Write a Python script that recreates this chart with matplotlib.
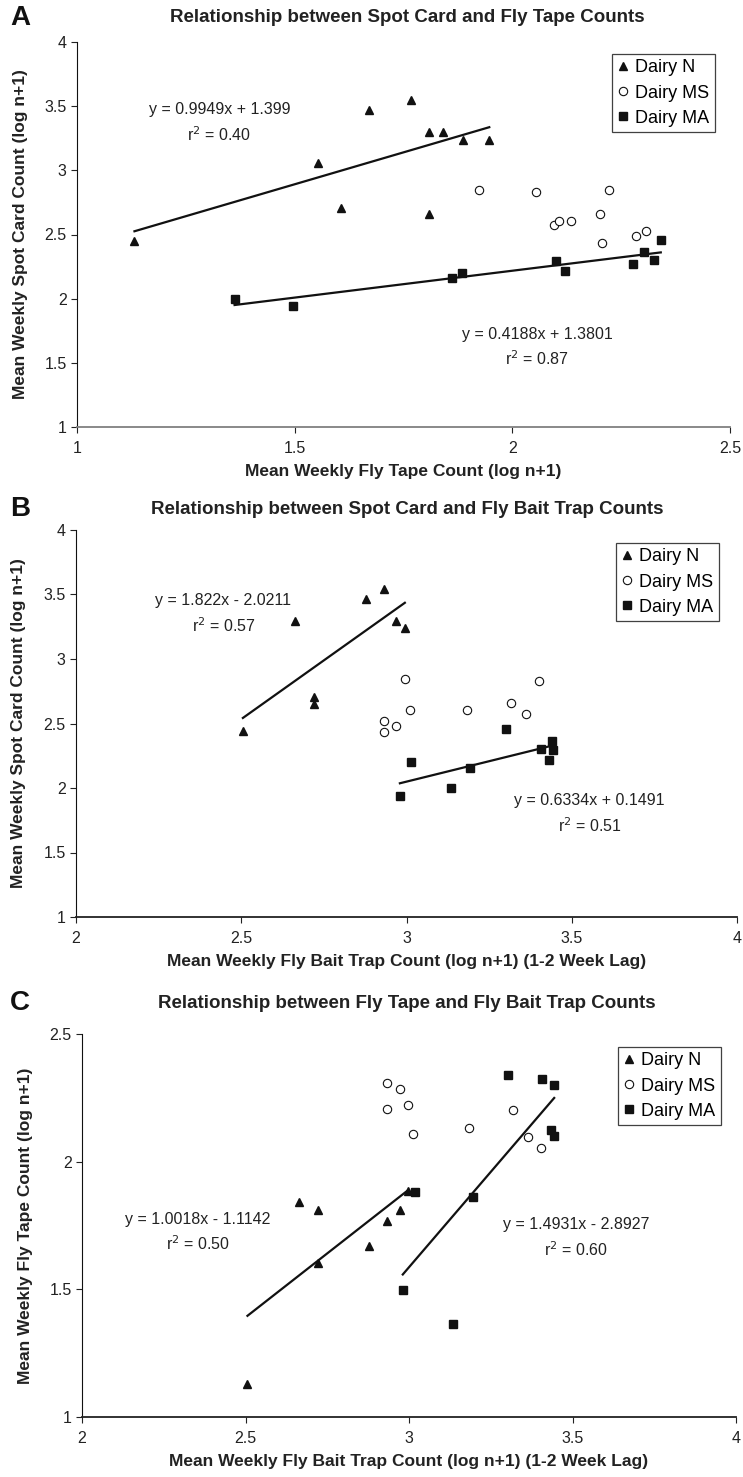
import matplotlib
matplotlib.use("Agg")
import matplotlib.pyplot as plt
import numpy as np

plt.rcParams['font.family'] = ['Liberation Sans', 'DejaVu Sans']

W, H = 743, 1477

# ---- Panel A: spot card vs fly tape ----
a_n_x = [1.132, 1.553, 1.606, 1.671, 1.768, 1.809, 1.841, 1.887, 1.947, 1.808]
a_n_y = [2.447, 3.060, 2.706, 3.467, 3.548, 3.296, 3.296, 3.239, 3.236, 2.660]
a_ms_x = [1.923, 2.054, 2.222, 2.202, 2.096, 2.108, 2.134, 2.207, 2.284, 2.308]
a_ms_y = [2.849, 2.831, 2.847, 2.660, 2.574, 2.608, 2.608, 2.436, 2.486, 2.527]
a_ma_x = [1.362, 1.497, 1.862, 1.884, 2.101, 2.122, 2.277, 2.303, 2.326, 2.341]
a_ma_y = [2.000, 1.943, 2.158, 2.200, 2.294, 2.218, 2.273, 2.366, 2.304, 2.460]

# ---- Panel B: spot card vs bait trap ----
b_n_x = [2.505, 2.662, 2.721, 2.721, 2.877, 2.931, 2.969, 2.995]
b_n_y = [2.440, 3.295, 2.704, 2.655, 3.468, 3.543, 3.295, 3.238]
b_ms_x = [2.995, 3.011, 2.931, 2.931, 2.969, 3.183, 3.315, 3.361, 3.402]
b_ms_y = [2.843, 2.606, 2.523, 2.433, 2.484, 2.606, 2.657, 2.572, 2.828]
b_ma_x = [2.980, 3.014, 3.134, 3.193, 3.301, 3.406, 3.440, 3.443, 3.432]
b_ma_y = [1.940, 2.200, 1.999, 2.154, 2.459, 2.304, 2.363, 2.291, 2.216]

# ---- Panel C: fly tape vs bait trap ----
c_n_x = [2.506, 2.664, 2.723, 2.723, 2.879, 2.934, 2.971, 2.996]
c_n_y = [1.130, 1.841, 1.809, 1.604, 1.669, 1.768, 1.809, 1.885]
c_ms_x = [2.934, 2.971, 2.934, 2.996, 3.013, 3.184, 3.317, 3.363, 3.403]
c_ms_y = [2.308, 2.283, 2.208, 2.221, 2.108, 2.133, 2.202, 2.097, 2.054]
c_ma_x = [3.017, 2.981, 3.136, 3.196, 3.303, 3.408, 3.442, 3.433, 3.444]
c_ma_y = [1.883, 1.498, 1.363, 1.861, 2.339, 2.325, 2.301, 2.123, 2.101]

series_labels = ['Dairy N', 'Dairy MS', 'Dairy MA']

# trendlines: (slope, intercept, series used for x range, label, label pos)
fits_a = [(0.9949, 1.399, a_n_x, 'y = 0.9949x + 1.399\nr$^2$ = 0.40', (1.327, 3.37)),
          (0.4188, 1.3801, a_ma_x, 'y = 0.4188x + 1.3801\nr$^2$ = 0.87', (2.057, 1.62))]
fits_b = [(1.822, -2.0211, b_n_x, 'y = 1.822x - 2.0211\nr$^2$ = 0.57', (2.446, 3.35)),
          (0.6334, 0.1491, b_ma_x, 'y = 0.6334x + 0.1491\nr$^2$ = 0.51', (3.554, 1.80))]
fits_c = [(1.0018, -1.1142, c_n_x, 'y = 1.0018x - 1.1142\nr$^2$ = 0.50', (2.355, 1.723)),
          (1.4931, -2.8927, c_ma_x, 'y = 1.4931x - 2.8927\nr$^2$ = 0.60', (3.51, 1.70))]


def box(l, r, t, b):
    return [l / W, 1 - b / H, (r - l) / W, (b - t) / H]


fig = plt.figure(figsize=(W / 100, H / 100), dpi=100)

panels = [
    dict(rect=box(77, 730, 42, 427), letter='A', ty=18,
         title='Relationship between Spot Card and Fly Tape Counts',
         xlab='Mean Weekly Fly Tape Count (log n+1)',
         ylab='Mean Weekly Spot Card Count (log n+1)',
         xlim=(1, 2.5), ylim=(1, 4), xt=[1, 1.5, 2, 2.5], yt=[1, 1.5, 2, 2.5, 3, 3.5, 4],
         data=[(a_n_x, a_n_y), (a_ms_x, a_ms_y), (a_ma_x, a_ma_y)], fits=fits_a,
         leg=(612, 715, 54, 132), bottom_color='#808080'),
    dict(rect=box(76, 737, 530, 917), letter='B', ty=509,
         title='Relationship between Spot Card and Fly Bait Trap Counts',
         xlab='Mean Weekly Fly Bait Trap Count (log n+1) (1-2 Week Lag)',
         ylab='Mean Weekly Spot Card Count (log n+1)',
         xlim=(2, 4), ylim=(1, 4), xt=[2, 2.5, 3, 3.5, 4], yt=[1, 1.5, 2, 2.5, 3, 3.5, 4],
         data=[(b_n_x, b_n_y), (b_ms_x, b_ms_y), (b_ma_x, b_ma_y)], fits=fits_b,
         leg=(616, 721, 543, 621), bottom_color='#222222'),
    dict(rect=box(82, 736, 1034, 1417), letter='C', ty=1003,
         title='Relationship between Fly Tape and Fly Bait Trap Counts',
         xlab='Mean Weekly Fly Bait Trap Count (log n+1) (1-2 Week Lag)',
         ylab='Mean Weekly Fly Tape Count (log n+1)',
         xlim=(2, 4), ylim=(1, 2.5), xt=[2, 2.5, 3, 3.5, 4], yt=[1, 1.5, 2, 2.5],
         data=[(c_n_x, c_n_y), (c_ms_x, c_ms_y), (c_ma_x, c_ma_y)], fits=fits_c,
         leg=(618, 722, 1047, 1124), bottom_color='#222222'),
]

styles = [dict(marker='^', ms=5.5, mfc='#111111', mec='#111111'),
          dict(marker='o', ms=6, mfc='white', mec='#111111', mew=0.8),
          dict(marker='s', ms=5.5, mfc='#111111', mec='#111111')]

for p in panels:
    ax = fig.add_axes(p['rect'])
    for (xs, ys), st, lab in zip(p['data'], styles, series_labels):
        ax.plot(xs, ys, ls='none', label=lab, **st)
    for m, c, xs, txt, pos in p['fits']:
        xr = np.array([min(xs), max(xs)])
        ax.plot(xr, m * xr + c, color='#111111', lw=1.6)
        ax.text(pos[0], pos[1], txt, ha='center', va='center', fontsize=11.5,
                color='#222222', linespacing=1.5)
    ax.set_xlim(*p['xlim'])
    ax.set_ylim(*p['ylim'])
    ax.set_xticks(p['xt'])
    ax.set_yticks(p['yt'])
    ax.set_xticklabels([f'{v:g}' for v in p['xt']])
    ax.set_yticklabels([f'{v:g}' for v in p['yt']])
    ax.spines['top'].set_visible(False)
    ax.spines['right'].set_visible(False)
    ax.spines['left'].set_color('#111111')
    ax.spines['bottom'].set_color(p['bottom_color'])
    ax.spines['bottom'].set_linewidth(1.3)
    ax.tick_params(labelsize=11.5, colors='#222222', length=4, width=0.8)
    ax.tick_params(axis='x', pad=6)
    ax.set_xlabel(p['xlab'], fontsize=12.5, fontweight='bold', color='#222222', labelpad=6)
    ax.set_ylabel(p['ylab'], fontsize=12.5, fontweight='bold', color='#222222')
    ax.yaxis.set_label_coords(-0.075, 0.5)
    ax.patch.set_alpha(0)

    l, r, t, b = p['leg']
    leg = fig.legend(*ax.get_legend_handles_labels(), loc='upper left',
                     bbox_to_anchor=(l / W, 1 - t / H), fontsize=13,
                     frameon=True, fancybox=False, edgecolor='#111111',
                     handlelength=0.6, handletextpad=0.4, borderpad=0.3,
                     labelspacing=0.45, borderaxespad=0)
    leg.get_frame().set_linewidth(0.9)

    fig.text(20 / W, 1 - p['ty'] / H, p['letter'], fontsize=20, fontweight='bold',
             ha='center', va='center', color='#111111')
    fig.text(407 / W, 1 - p['ty'] / H, p['title'], fontsize=13.5, fontweight='bold',
             ha='center', va='center', color='#222222')

fig.savefig('out.png', dpi=100)
